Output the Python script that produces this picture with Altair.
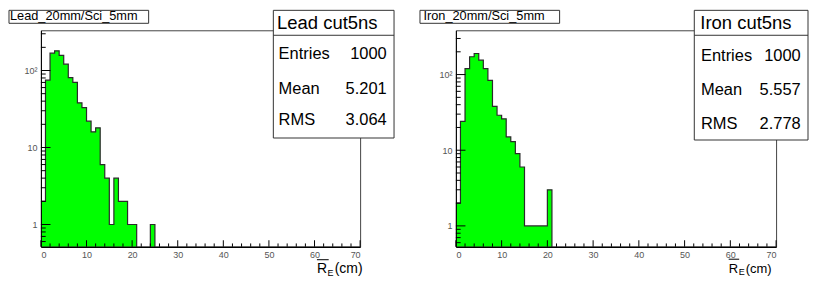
import altair as alt
import pandas as pd

FONT = "Liberation Sans"
GREEN = "#00ff00"
LINE = "#2a2a2a"
PH = 217

# ---- data ----
lead_counts = [2, 75, 168, 180, 157, 121, 81, 70, 38, 33, 22, 16, 18, 6, 4, 1, 4, 2, 2, 1, 1, 0, 0, 0, 1, 0]
iron_counts = [2, 24, 120, 172, 190, 155, 120, 84, 38, 29, 26, 15, 13, 9, 6, 1, 1, 1, 1, 1, 3, 0]
bin_width = 1

lead_title = "Lead_20mm/Sci_5mm"
iron_title = "Iron_20mm/Sci_5mm"
lead_stats_title = "Lead cut5ns"
iron_stats_title = "Iron cut5ns"
stats_labels = ["Entries", "Mean", "RMS"]
lead_stats_values = ["1000", "5.201", "3.064"]
iron_stats_values = ["1000", "5.557", "2.778"]

x_domain = [0, 70]
lead_y_domain = [0.514, 333]
iron_y_domain = [0.53, 385]

x_major_ticks = [0, 10, 20, 30, 40, 50, 60, 70]
x_minor_ticks = [2, 4, 6, 8, 12, 14, 16, 18, 22, 24, 26, 28, 32, 34, 36, 38,
                 42, 44, 46, 48, 52, 54, 56, 58, 62, 64, 66, 68]
y_major_ticks = [1, 10, 100]
y_minor_ticks = [0.6, 0.7, 0.8, 0.9, 2, 3, 4, 5, 6, 7, 8, 9,
                 20, 30, 40, 50, 60, 70, 80, 90, 200, 300]

X_AXIS = alt.Axis(values=x_major_ticks, ticks=False, grid=False, title=None,
                  labelFont=FONT, labelFontSize=9, labelColor="#555555", labelPadding=4,
                  domainColor="black", domainWidth=1.5, zindex=1)
Y_AXIS = alt.Axis(values=y_major_ticks, ticks=False, grid=False, title=None,
                  labelExpr="datum.value >= 100 ? '10²' : datum.label",
                  labelFont=FONT, labelFontSize=9, labelColor="#555555", labelPadding=4,
                  domainColor="black", domainWidth=1, zindex=1)


def one(d):
    return alt.Data(values=[d])


def txt(text, x, y, size, align="left", color="black", baseline="alphabetic"):
    return alt.Chart(one({"t": text})).mark_text(
        align=align, baseline=baseline, fontSize=size, font=FONT, color=color
    ).encode(text="t:N", x=alt.value(x), y=alt.value(y))


def box(x1, x2, y1, y2, stroke="#333333", sw=1):
    return alt.Chart(one({"a": 1})).mark_rect(
        fill="white", stroke=stroke, strokeWidth=sw
    ).encode(x=alt.value(x1), x2=alt.value(x2), y=alt.value(y1), y2=alt.value(y2))


def hline(x1, x2, y, color="#333333", sw=1):
    return alt.Chart(one({"a": 1})).mark_rule(color=color, strokeWidth=sw).encode(
        x=alt.value(x1), x2=alt.value(x2), y=alt.value(y)
    )


def panel(counts, ydom, width, title_text, tb, stats_title, stats_vals, sb, ax):
    xs = alt.Scale(domain=x_domain, nice=False, zero=False)
    ys = alt.Scale(type="log", domain=ydom, nice=False)
    edges = [i * bin_width for i in range(len(counts) + 1)]
    df = pd.DataFrame({"edge": edges, "count": counts + [counts[-1]]})

    hist = alt.Chart(df).transform_calculate(
        yv="max(datum.count, 0.01)", base=str(ydom[0] * 0.5)
    ).mark_area(
        interpolate="step-after", fill=GREEN, fillOpacity=1, stroke=LINE,
        strokeWidth=1.2, clip=True
    ).encode(
        x=alt.X("edge:Q", scale=xs, axis=X_AXIS),
        y=alt.Y("yv:Q", scale=ys, axis=Y_AXIS),
        y2="base:Q",
    )

    def xticks(vals, length):
        return alt.Chart(pd.DataFrame({"edge": vals})).mark_rule(color="black", strokeWidth=1).encode(
            x=alt.X("edge:Q", scale=xs, axis=X_AXIS), y=alt.value(PH), y2=alt.value(PH - length))

    def yticks(vals, length):
        return alt.Chart(pd.DataFrame({"yv": vals})).mark_rule(color="black", strokeWidth=1).encode(
            y=alt.Y("yv:Q", scale=ys, axis=Y_AXIS), x=alt.value(0), x2=alt.value(length))

    layers = [
        hist,
        xticks(x_major_ticks, 6.5), xticks(x_minor_ticks, 3.3),
        yticks(y_major_ticks, 9.6), yticks(y_minor_ticks, 4.8),
        box(tb["x1"], tb["x2"], -20, -7),
        txt(title_text, tb["tx"], tb["ty"], 12.8),
        box(sb["x1"], sb["x2"], -20, sb["y2"]),
        hline(sb["x1"], sb["x2"], 5),
        txt(stats_title, sb["tx"], -1.3, 18.5),
    ]
    for lab, val, yb in zip(stats_labels, stats_vals, sb["rows"]):
        layers.append(txt(lab, sb["lx"], yb, 16.5))
        layers.append(txt(val, sb["vx"], yb, 16.5, align="right"))
    layers += [
        txt("R", ax["rx"], ax["by"], ax["size"]),
        txt("E", ax["ex"], ax["by"] + 2.5, 9),
        txt("(cm)", ax["cx"], ax["by"], ax["size"]),
        hline(ax["ox1"], ax["ox2"], ax["oy"], color="black", sw=1),
    ]
    return alt.layer(*layers).properties(width=width, height=PH)


left = panel(
    lead_counts, lead_y_domain, 320, lead_title,
    {"x1": -32, "x2": 108, "tx": -31, "ty": -10.8},
    lead_stats_title, lead_stats_values,
    {"x1": 233, "x2": 354, "y2": 108, "tx": 236.7, "lx": 238.3, "vx": 346.7,
     "rows": [28.7, 63.7, 95.3]},
    {"rx": 276.7, "ex": 287.3, "cx": 294.5, "by": 243.7, "size": 14,
     "ox1": 276.7, "ox2": 288.5, "oy": 230},
)
right = panel(
    iron_counts, iron_y_domain, 321, iron_title,
    {"x1": -36, "x2": 104, "tx": -32.5, "ty": -10},
    iron_stats_title, iron_stats_values,
    {"x1": 239, "x2": 353, "y2": 110, "tx": 245, "lx": 245.7, "vx": 345.7,
     "rows": [30.3, 65.3, 98.7]},
    {"rx": 273.5, "ex": 283.5, "cx": 290.5, "by": 243, "size": 13,
     "ox1": 273.5, "ox2": 284, "oy": 229.5},
)

chart = alt.hconcat(left, right, spacing=96, bounds="flush").properties(
    padding={"left": 0, "top": 0, "right": 0, "bottom": 0},
    background="white",
).configure_view(stroke="#444444", strokeWidth=1)

chart.save("out.html", embed_options={"renderer": "svg", "actions": False})
